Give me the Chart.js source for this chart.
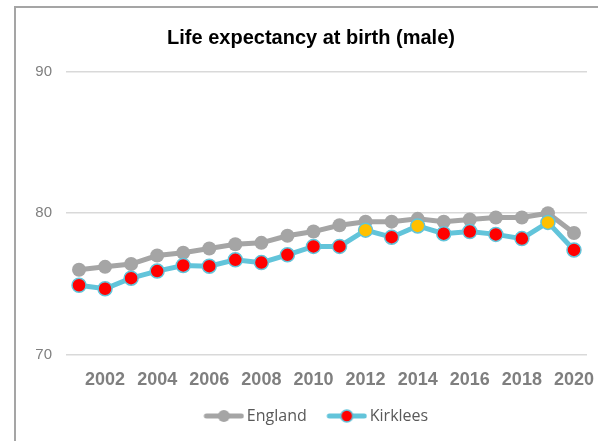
<!DOCTYPE html>
<html>
<head>
<meta charset="utf-8">
<script src="https://cdn.jsdelivr.net/npm/chart.js@4.4.1/dist/chart.umd.min.js"></script>
<style>
  body { margin: 0; background: #fff; overflow: hidden; }
  #caja {
    position: absolute; left: 14px; top: 6px;
    width: 598px; height: 440px;
    border: 2px solid #a5a5a5;
    background: #fff;
  }
  canvas { display: block; }
</style>
</head>
<body>
<div id="caja"><canvas id="myChart" width="598" height="440"></canvas></div>
<script>
// Datos del grafico
var years = [2001, 2002, 2003, 2004, 2005, 2006, 2007, 2008, 2009, 2010,
             2011, 2012, 2013, 2014, 2015, 2016, 2017, 2018, 2019, 2020];
var england = [76.0, 76.2, 76.4, 77.0, 77.2, 77.5, 77.8, 77.9, 78.4, 78.7,
               79.15, 79.4, 79.4, 79.6, 79.4, 79.55, 79.7, 79.7, 80.0, 78.6];
var kirklees = [74.9, 74.65, 75.4, 75.9, 76.3, 76.25, 76.7, 76.5, 77.05, 77.65,
                77.65, 78.8, 78.3, 79.1, 78.55, 78.7, 78.5, 78.2, 79.35, 77.4];
// años en que Kirklees aparece en amarillo
var similarYears = [2012, 2014, 2019];
var yTicks = [70, 80, 90];

var GRIS = '#a5a5a5';
var AZUL = '#62c4da';
var ROJO = '#ff0000';
var AMARILLO = '#ffc000';

var kirkleesColors = years.map(function (y) {
    return similarYears.indexOf(y) >= 0 ? AMARILLO : ROJO;
});

// icono de leyenda: linea con punto (con margen transparente a la izquierda)
function iconoLeyenda(lineColor, dotColor, dotBorder) {
    var c = document.createElement('canvas');
    c.width = 56; c.height = 16;
    var g = c.getContext('2d');
    g.strokeStyle = lineColor;
    g.lineWidth = 5;
    g.lineCap = 'round';
    g.beginPath(); g.moveTo(18, 8); g.lineTo(53, 8); g.stroke();
    g.beginPath(); g.arc(35.5, 8, 6, 0, Math.PI * 2);
    g.fillStyle = dotColor; g.fill();
    if (dotBorder) { g.lineWidth = 1.5; g.strokeStyle = dotBorder; g.stroke(); }
    return c;
}
var iconEngland = iconoLeyenda(GRIS, GRIS, null);
var iconKirklees = iconoLeyenda(AZUL, ROJO, AZUL);

var ctx = document.getElementById('myChart').getContext('2d');
var myChart = new Chart(ctx, {
    type: 'line',
    data: {
        labels: years,
        datasets: [{
            label: 'England',
            data: england,
            borderColor: GRIS,
            backgroundColor: GRIS,
            borderWidth: 5,
            pointRadius: 7,
            pointBorderWidth: 0,
            pointBackgroundColor: GRIS,
            order: 1
        }, {
            label: 'Kirklees',
            data: kirklees,
            borderColor: AZUL,
            backgroundColor: ROJO,
            borderWidth: 5,
            pointRadius: 7,
            pointBorderWidth: 1.5,
            pointBorderColor: AZUL,
            pointBackgroundColor: kirkleesColors,
            order: 0
        }]
    },
    options: {
        responsive: false,
        animation: false,
        layout: { padding: { left: 19, right: 27, top: 0, bottom: 14 } },
        plugins: {
            title: {
                display: true,
                text: 'Life expectancy at birth (male)',
                color: '#000',
                font: { family: 'Liberation Sans, Arial', size: 20, weight: 'bold' },
                padding: { top: 18, bottom: 22 }
            },
            legend: {
                position: 'bottom',
                labels: {
                    usePointStyle: true,
                    pointStyleWidth: 45,
                    color: '#595959',
                    font: { family: 'Open Sans', size: 16 },
                    padding: 10,
                    sort: function (a, b) { return a.datasetIndex - b.datasetIndex; },
                    generateLabels: function (chart) {
                        return chart.data.datasets.map(function (ds, i) {
                            return {
                                text: ds.label,
                                datasetIndex: i,
                                pointStyle: i === 0 ? iconEngland : iconKirklees,
                                fillStyle: ds.borderColor,
                                strokeStyle: ds.borderColor,
                                lineWidth: 0,
                                fontColor: '#595959',
                                hidden: false
                            };
                        });
                    }
                }
            },
            tooltip: { enabled: false }
        },
        scales: {
            x: {
                offset: true,
                grid: { display: false },
                border: { display: false },
                ticks: {
                    autoSkip: false,
                    maxRotation: 0,
                    color: '#7f7f7f',
                    padding: 7,
                    font: { family: 'Liberation Sans, Arial', size: 18, weight: 'bold' },
                    callback: function (value, index) {
                        var y = years[index];
                        return y % 2 === 0 ? String(y) : '';
                    }
                }
            },
            y: {
                min: 70,
                max: 90,
                afterBuildTicks: function (axis) {
                    axis.ticks = yTicks.map(function (v) { return { value: v }; });
                },
                afterFit: function (axis) {
                    axis.width = 31; // etiqueta + separacion
                },
                grid: { color: '#d9d9d9', lineWidth: 1.5, drawTicks: false },
                border: { display: false },
                ticks: {
                    color: '#7f7f7f',
                    padding: 14,
                    font: { family: 'Liberation Sans, Arial', size: 15 }
                }
            }
        }
    }
});
</script>
</body>
</html>
